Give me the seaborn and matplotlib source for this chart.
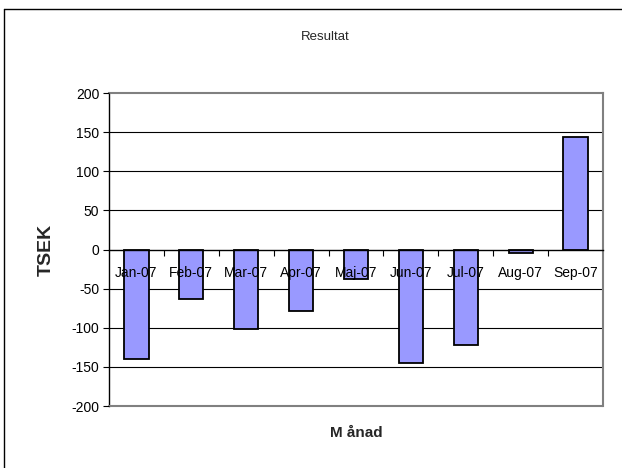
import matplotlib
matplotlib.use("Agg")
import matplotlib.pyplot as plt
import seaborn as sns
import pandas as pd
from matplotlib.lines import Line2D

months = ["Jan-07", "Feb-07", "Mar-07", "Apr-07", "Maj-07", "Jun-07", "Jul-07", "Aug-07", "Sep-07"]
values = [-140, -63, -101, -79, -38, -145, -122, -5, 144]
yticks = [-200, -150, -100, -50, 0, 50, 100, 150, 200]

sns.set_theme(style="white")
plt.rcParams['font.family'] = ['Liberation Sans', 'DejaVu Sans']

df = pd.DataFrame({"Månad": months, "TSEK": values})

fig = plt.figure(figsize=(6.22, 4.68), dpi=100)
ax = fig.add_axes([109/622, 1-406/468, (603-109)/622, (406-93)/468])

sns.barplot(data=df, x="Månad", y="TSEK", color="#9999ff", edgecolor="black",
            linewidth=1.3, width=0.44, saturation=1, ax=ax)
for p in ax.patches:
    p.set_zorder(2)

ax.set_xlim(-0.5, len(months)-0.5)
ax.set_ylim(-200, 200)
ax.set_yticks(yticks)
ax.set_yticklabels([str(v) for v in yticks], fontsize=10, color="black")
for v in yticks[1:-1]:
    if v != 0:
        ax.axhline(v, color="black", lw=0.8, zorder=0)

# frame
for s in ["top", "right"]:
    ax.spines[s].set_color("#808080")
    ax.spines[s].set_linewidth(1.5)
ax.spines["left"].set_color("black")
ax.spines["left"].set_linewidth(1.0)
ax.spines["bottom"].set_position(("data", 0))
ax.spines["bottom"].set_color("black")
ax.spines["bottom"].set_linewidth(1.0)
ax.axhline(-200, color="#808080", lw=1.5, zorder=3, clip_on=False)

ax.tick_params(axis="y", which="major", direction="out", length=4, width=0.8, color="black", pad=3, left=True)
ax.set_xticks(range(len(months)))
ax.set_xticklabels(months, fontsize=10, color="black")
ax.tick_params(axis="x", which="major", length=0, pad=12)
ax.set_xticks([i + 0.5 for i in range(len(months)-1)], minor=True)
ax.tick_params(axis="x", which="minor", direction="out", length=4, width=0.8, color="black", bottom=True)
ax.xaxis.set_zorder(5)
ax.yaxis.set_zorder(5)

ax.set_xlabel("")
ax.set_ylabel("")
fig.text(356/622, 1-433/468, "M ånad", ha="center", va="center", fontsize=11, fontweight="bold")
fig.text(46/622, 1-250/468, "TSEK", ha="center", va="center", rotation=90, fontsize=14, fontweight="bold")
fig.text(325/622, 1-37/468, "Resultat", ha="center", va="center", fontsize=9.5)

# outer chart border (left and top visible)
fig.add_artist(Line2D([4/622, 4/622], [0, 1-9/468], transform=fig.transFigure, color="black", lw=1.0))
fig.add_artist(Line2D([4/622, 1], [1-9/468, 1-9/468], transform=fig.transFigure, color="black", lw=1.0))

fig.savefig("out.png", dpi=100)
